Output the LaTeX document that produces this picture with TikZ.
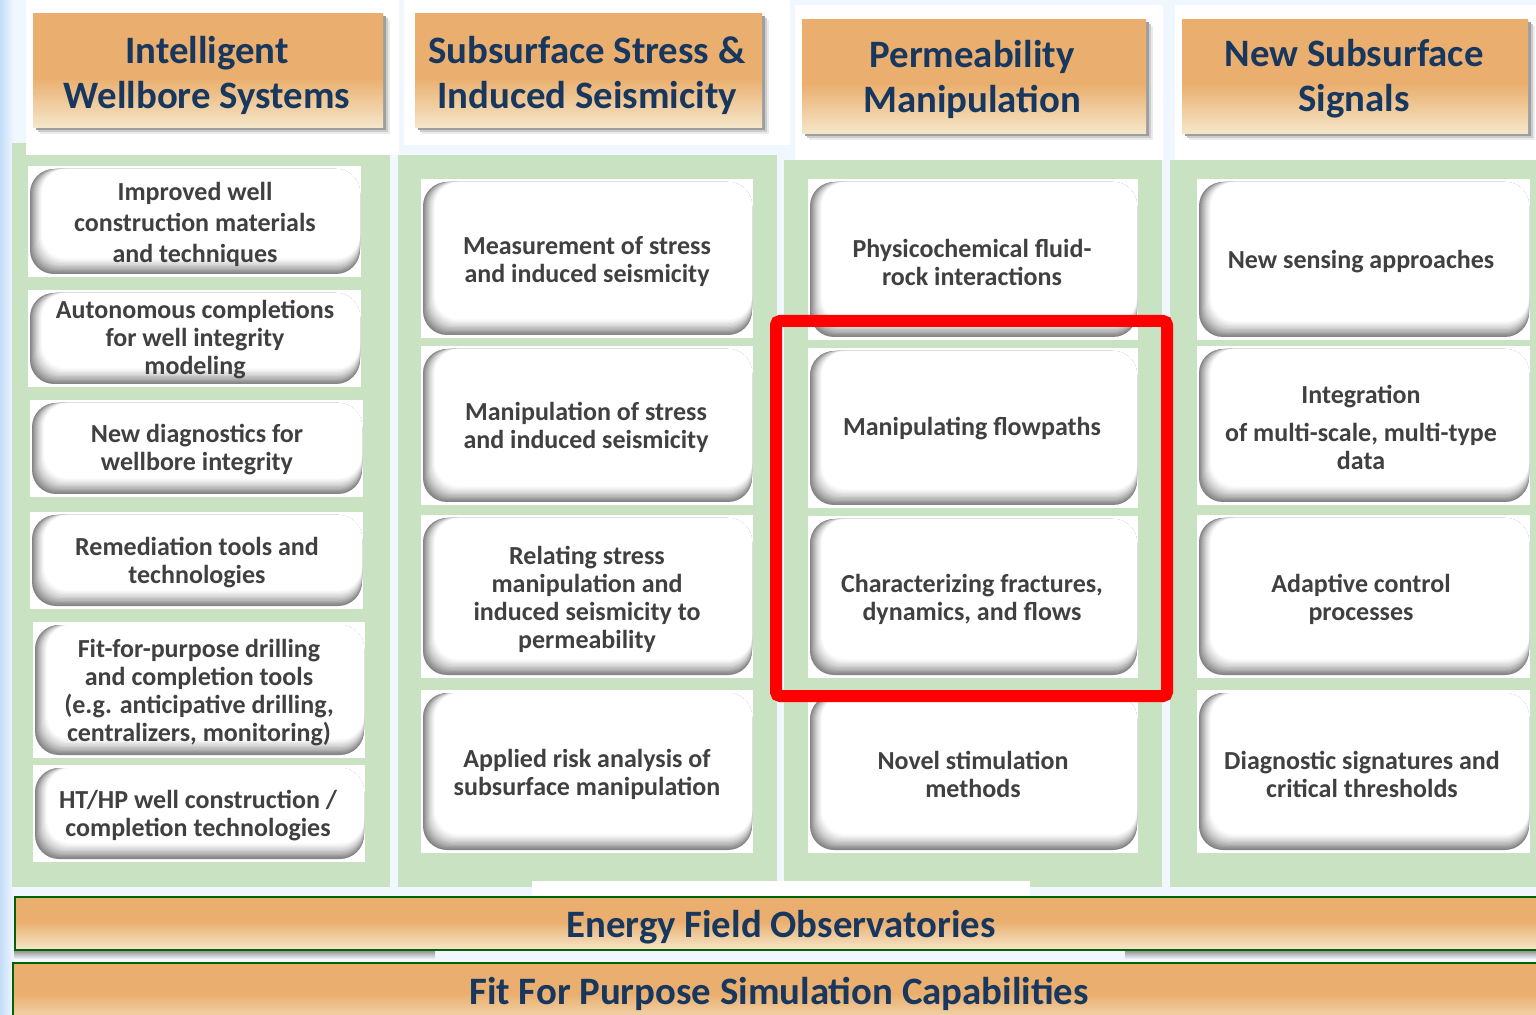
\documentclass[tikz,border=0pt]{standalone}
\usepackage{fontspec}
\setmainfont{Carlito}
\definecolor{bgblue}{RGB}{241,247,254}
\definecolor{edgeblue}{RGB}{196,222,250}
\definecolor{panel}{RGB}{200,226,194}
\definecolor{orng}{RGB}{234,175,110}
\definecolor{pale}{RGB}{245,231,203}
\definecolor{navy}{RGB}{23,55,94}
\definecolor{txtgray}{RGB}{64,64,64}
\definecolor{barline}{RGB}{0,100,0}
\pgfdeclareverticalshading{tabshade}{100bp}{color(0bp)=(pale); color(25bp)=(pale); color(47bp)=(orng); color(75bp)=(orng); color(100bp)=(orng)}
\pgfdeclareverticalshading{barshade}{100bp}{color(0bp)=(pale); color(25bp)=(pale); color(52bp)=(orng); color(75bp)=(orng); color(100bp)=(orng)}

\tikzset{
  btntext/.style={font=\bfseries\fontsize{13}{14}\selectfont, text=txtgray, align=center, inner sep=0pt, yshift=-1pt},
  hdrtext/.style={font=\bfseries\fontsize{19.4}{22.5}\selectfont, text=navy, align=center, inner sep=0pt, yshift=-1pt},
  bartext/.style={font=\bfseries\fontsize{19.4}{22}\selectfont, text=navy, inner sep=0pt, yshift=-1.5pt},
  greenpanel/.style={fill=panel},
  whitearea/.style={fill=white},
  highlight/.style={draw=red, line width=6pt, rounded corners=2pt},
  barbox/.style={shading=barshade, draw=barline, line width=1.1pt}
}

% raised button on a white tile: name, x1, y1, x2, y2, text x, text y, text
\newcommand\btn[8]{%
  \fill[white] (#2,#3) rectangle (#4,#5);
  \foreach \k in {0,...,12}{%
    \pgfmathtruncatemacro\sh{round(48*(1-\k/12)^1.3)}%
    \fill[black!\sh, rounded corners=12pt] ({#2+2+\k},{#3+3}) rectangle ({#4-1},{#5-3-1.3*\k});
  }%
  \node[btntext] (#1) at (#6,#7) {#8};
}

% column heading tab with drop shadow: name, x1, y1, x2, y2, text x, text y, text
\newcommand\hdr[8]{%
  \fill[black!8] (#2+7,#3+6) rectangle (#4+7,#5+6);
  \fill[black!20] (#2+5,#3+4) rectangle (#4+5,#5+4);
  \fill[black!38] (#2+3,#3+2) rectangle (#4+3,#5+2);
  \shade[shading=tabshade] (#2,#3) rectangle (#4,#5);
  \node[hdrtext] (#1) at (#6,#7) {#8};
}

\begin{document}
\begin{tikzpicture}[x=0.5pt, y=-0.5pt]
\useasboundingbox (0,0) rectangle (1536,1015);
\clip (0,0) rectangle (1536,1015);

% background
\fill[bgblue] (0,0) rectangle (1536,1015);
\shade[left color=edgeblue, right color=bgblue] (0,0) rectangle (14,1015);

% green column panels
\fill[greenpanel] (12,143) rectangle (390,887);
\fill[greenpanel] (398,155) rectangle (777,887);
\fill[greenpanel] (784,160) rectangle (1162,887);
\fill[greenpanel] (1170,160) rectangle (1536,887);
\fill[whitearea] (532,881) rectangle (1030,896);

% white areas behind the headings
\fill[whitearea] (26,0) rectangle (399,155);
\fill[whitearea] (404,0) rectangle (790,145);
\fill[whitearea] (795,5) rectangle (1163,160);
\fill[whitearea] (1175,5) rectangle (1536,160);

% headings
\hdr{h1}{33}{14}{383}{128}{207}{73}{Intelligent\\Wellbore Systems}
\hdr{h2}{415}{14}{762}{128}{587}{73}{Subsurface Stress \&\\Induced Seismicity}
\hdr{h3}{802}{20}{1146}{134}{972}{77}{Permeability\\Manipulation}
\hdr{h4}{1182}{20}{1528}{134}{1354}{77}{New Subsurface\\Signals}

% column 1
\btn{a1}{28}{166}{361}{277}{195}{222}{Improved well\\[1.5pt]construction materials\\[1.5pt]and techniques}
\btn{a2}{28}{290}{361}{387}{195}{338}{Autonomous completions\\for well integrity\\modeling}
\btn{a3}{30}{400}{363}{497}{197}{448}{New diagnostics for\\wellbore integrity}
\btn{a4}{30}{512}{363}{609}{197}{561}{Remediation tools and\\technologies}
\btn{a5}{33}{622}{365}{758}{199}{691}{Fit-for-purpose drilling\\and completion tools\\(e.g. anticipative drilling,\\centralizers, monitoring)}
\btn{a6}{33}{765}{365}{862}{198}{814}{HT/HP well construction /\\completion technologies}

% column 2
\btn{b1}{421}{179}{753}{338}{587}{260}{Measurement of stress\\and induced seismicity}
\btn{b2}{421}{346}{753}{505}{586}{425}{Manipulation of stress\\and induced seismicity}
\btn{b3}{421}{515}{753}{678}{587}{597}{Relating stress\\manipulation and\\induced seismicity to\\permeability}
\btn{b4}{421}{690}{753}{853}{587}{772}{Applied risk analysis of\\subsurface manipulation}

% column 3
\btn{c1}{808}{179}{1138}{340}{972}{260}{Physicochemical fluid-\\rock interactions}
\btn{c2}{808}{348}{1138}{508}{972}{427}{Manipulating flowpaths}
\btn{c3}{808}{516}{1138}{678}{972}{597}{Characterizing fractures,\\dynamics, and flows}
\btn{c4}{808}{692}{1138}{853}{973}{772}{Novel stimulation\\methods}

% column 4
\btn{d1}{1197}{179}{1530}{340}{1361}{260}{New sensing approaches}
\btn{d2}{1197}{346}{1530}{505}{1361}{425}{Integration\\[5pt]of multi-scale, multi-type\\data}
\btn{d3}{1197}{515}{1530}{678}{1361}{597}{Adaptive control\\processes}
\btn{d4}{1197}{690}{1530}{853}{1362}{772}{Diagnostic signatures and\\critical thresholds}

% highlight around the flowpath items
\draw[highlight] (776,321) rectangle (1167,696);

% bottom bars
\shade[top color=black!45, bottom color=bgblue] (14,950) rectangle (435,959);
\shade[top color=black!45, bottom color=bgblue] (1125,950) rectangle (1536,959);
\shade[barbox] (15,897) rectangle (1545,950);
\node[bartext] (e1) at (781,924) {Energy Field Observatories};
\shade[barbox] (13,963) rectangle (1545,1030);
\node[bartext] (e2) at (779,991) {Fit For Purpose Simulation Capabilities};
\end{tikzpicture}
\end{document}
